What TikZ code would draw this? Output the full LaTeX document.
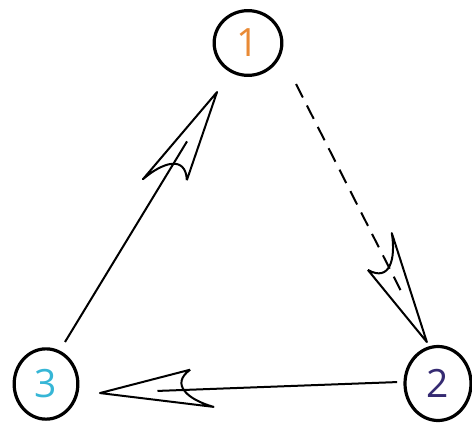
\documentclass[tikz,border=0pt]{standalone}
\usepackage{fontspec}
\setmainfont{Open Sans}
\usetikzlibrary{shapes.geometric,decorations.markings}
\definecolor{cone}{HTML}{E98A35}
\definecolor{ctwo}{HTML}{352A72}
\definecolor{cthree}{HTML}{36B6D6}
\newcommand\sketchhead{\draw[headline] (-91,-20) -- (0,0) -- (-113,18) .. controls (-88,10) and (-70,-6) .. (-91,-20);}
\begin{document}
\begin{tikzpicture}[x=1pt,y=1pt,
  numnode/.style={ellipse, draw, line width=3.2pt, inner sep=0pt, outer sep=0pt,
    font=\fontsize{39}{39}\selectfont},
  shaft/.style={line width=2pt},
  headline/.style={line width=2pt, line join=round},
  headmark/.style={decorate, decoration={markings, mark=at position -#1 with {\sketchhead}}},
]
\useasboundingbox (0,0) rectangle (472,-426);
\node[numnode, minimum width=67.7pt, minimum height=64.7pt, text=cone] (n1) at (248,-43) {1};
\node[numnode, minimum width=66pt, minimum height=74pt, text=ctwo] (n2) at (438,-383.5) {2};
\node[numnode, minimum width=63.7pt, minimum height=70.3pt, text=cthree] (n3) at (46,-384) {3};
% 1 -> 2 (dashed)
\draw[shaft, dash pattern=on 15pt off 9pt, shorten <=35pt, shorten >=64pt] (n1.-17) -- (n2.103);
\path[headmark=6.3pt] (n1.-17) -- (n2.103);
% 2 -> 3
\draw[shaft, shorten <=8pt, shorten >=81pt] (n2.177) -- (n3.-18);
\path[headmark=23.4pt] (n2.177) -- (n3.-18);
% 3 -> 1
\draw[shaft, shorten <=11.6pt, shorten >=83pt] (n3.68) -- (n1.237);
\path[headmark=25.2pt] (n3.68) -- (n1.237);
\end{tikzpicture}
\end{document}
